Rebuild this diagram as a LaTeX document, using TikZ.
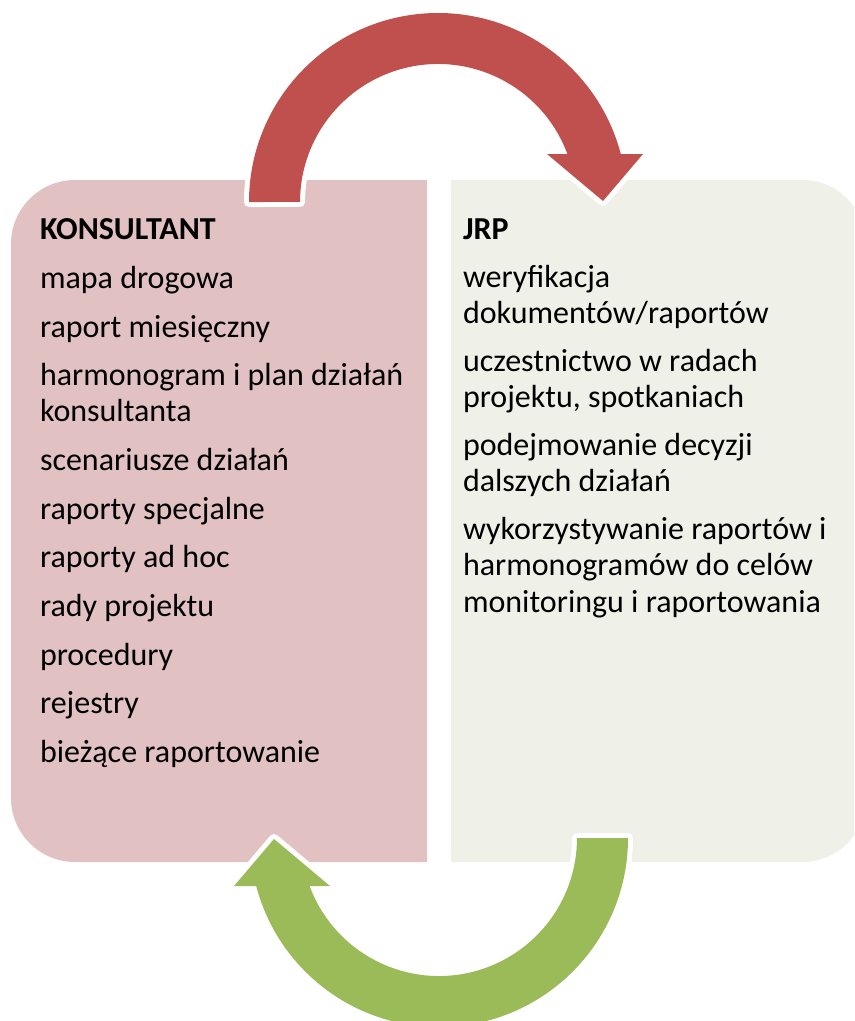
\documentclass[tikz,border=0pt]{standalone}
\usepackage{fontspec}
\setmainfont{Carlito}
\definecolor{leftfill}{HTML}{E2C1C3}
\definecolor{rightfill}{HTML}{EFF1E9}
\definecolor{redarrow}{HTML}{C0504D}
\definecolor{greenarrow}{HTML}{9BBB59}
\newcommand{\cyclearrow}{(249,202) arc[start angle=180, end angle=345.29, radius=189] -- (643,154) -- (603,201) -- (547,154) -- (567.4,154) arc[start angle=339.65, end angle=180, radius=138] -- cycle}
\begin{document}
\begin{tikzpicture}[x=0.75pt, y=-0.75pt,
  txt/.style={anchor=base west, inner sep=0pt, outer sep=0pt, font=\fontsize{24}{28}\selectfont, text=black},
  halo/.style={draw=white, line width=7.5pt, line join=round, fill=white}]
\useasboundingbox (0,0) rectangle (854,1021);
\clip (0,0) rectangle (854,1021);
% boxes
\fill[leftfill] (427,180) -- (75,180) arc[start angle=-90, end angle=-180, radius=64]
  -- (11,798) arc[start angle=180, end angle=90, radius=64] -- (427,862) -- cycle;
\fill[rightfill] (451,180) -- (803,180) arc[start angle=-90, end angle=0, radius=62]
  -- (865,800) arc[start angle=0, end angle=90, radius=62] -- (451,862) -- cycle;
% red arrow
\path[halo] \cyclearrow;
\fill[redarrow] \cyclearrow;
% green arrow
\begin{scope}[rotate around={180:(438.5,520)}]
\path[halo] \cyclearrow;
\fill[greenarrow] \cyclearrow;
\end{scope}
% left text
\node[txt] (k0) at (40,239) {\bfseries KONSULTANT};
\node[txt] (k1) at (40,288) {mapa drogowa};
\node[txt] (k2) at (40,337) {raport miesięczny};
\node[txt] (k3) at (40,385) {harmonogram i plan działań};
\node[txt] (k3b) at (40,421.5) {konsultanta};
\node[txt] (k4) at (40,470) {scenariusze działań};
\node[txt] (k5) at (40,519) {raporty specjalne};
\node[txt] (k6) at (40,567.5) {raporty ad hoc};
\node[txt] (k7) at (40,616) {rady projektu};
\node[txt] (k8) at (40,665) {procedury};
\node[txt] (k9) at (40,713) {rejestry};
\node[txt] (k10) at (40,762) {bieżące raportowanie};
% right text
\node[txt] (j0) at (463,239) {\bfseries JRP};
\node[txt] (j1) at (463,287) {weryfikacja};
\node[txt] (j1b) at (463,323.5) {dokumentów/raportów};
\node[txt] (j2) at (463,371) {uczestnictwo w radach};
\node[txt] (j2b) at (463,407.5) {projektu, spotkaniach};
\node[txt] (j3) at (463,455) {podejmowanie decyzji};
\node[txt] (j3b) at (463,491.5) {dalszych działań};
\node[txt] (j4) at (463,539) {wykorzystywanie raportów i};
\node[txt] (j4b) at (463,575.5) {harmonogramów do celów};
\node[txt] (j4c) at (463,612) {monitoringu i raportowania};
\end{tikzpicture}
\end{document}
